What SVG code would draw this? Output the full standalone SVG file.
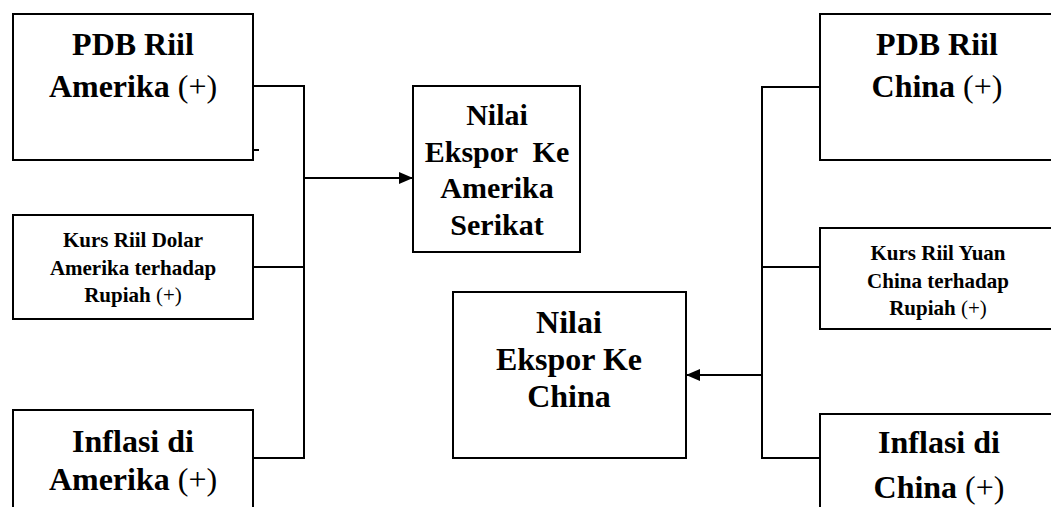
<svg xmlns="http://www.w3.org/2000/svg" width="1051" height="507" viewBox="0 0 1051 507">
<style>
.box{fill:#fff;stroke:#000;stroke-width:2}
.ln{fill:none;stroke:#000;stroke-width:2}
text{font-family:"Liberation Serif","Times New Roman",serif;font-weight:bold;fill:#000;text-anchor:middle}
.big{font-size:32px}
.mid{font-size:30px}
.sm{font-size:21px}
.n{font-weight:normal}
</style>
<defs>
<marker id="ah" markerWidth="14" markerHeight="12" refX="14" refY="6" orient="auto" markerUnits="userSpaceOnUse">
<path d="M0,0 L14,6 L0,12 Z" fill="#000"/>
</marker>
</defs>
<g id="connectors">
<polyline class="ln" points="253,86 304,86 304,458 253,458"/>
<line class="ln" x1="253" y1="267" x2="304" y2="267"/>
<line class="ln" x1="304" y1="178" x2="413" y2="178" marker-end="url(#ah)"/>
<line class="ln" x1="250" y1="150" x2="259" y2="150" stroke-width="1.5"/>
<polyline class="ln" points="820,87 762,87 762,458 820,458"/>
<line class="ln" x1="762" y1="267" x2="820" y2="267"/>
<line class="ln" x1="762" y1="375" x2="686" y2="375" marker-end="url(#ah)"/>
</g>
<g id="pdb-amerika">
<rect class="box" x="13" y="14" width="240" height="146"/>
<text class="big" x="133" y="55">PDB Riil</text>
<text class="big" x="133" y="97">Amerika <tspan class="n">(+)</tspan></text>
</g>
<g id="kurs-dolar">
<rect class="box" x="13" y="215" width="240" height="104"/>
<text class="sm" x="133" y="247">Kurs Riil Dolar</text>
<text class="sm" x="133" y="275">Amerika terhadap</text>
<text class="sm" x="133" y="302">Rupiah <tspan class="n">(+)</tspan></text>
</g>
<g id="inflasi-amerika">
<rect class="box" x="13" y="410" width="240" height="110"/>
<text class="big" x="133" y="452">Inflasi di</text>
<text class="big" x="133" y="490">Amerika <tspan class="n">(+)</tspan></text>
</g>
<g id="ekspor-amerika">
<rect class="box" x="413" y="86" width="167" height="166"/>
<text class="mid" x="497" y="125">Nilai</text>
<text class="mid" x="497" y="162" xml:space="preserve">Ekspor  Ke</text>
<text class="mid" x="497" y="198">Amerika</text>
<text class="mid" x="497" y="235">Serikat</text>
</g>
<g id="ekspor-china">
<rect class="box" x="453" y="292" width="233" height="166"/>
<text class="big" x="569" y="333">Nilai</text>
<text class="big" x="569" y="370">Ekspor Ke</text>
<text class="big" x="569" y="407">China</text>
</g>
<g id="pdb-china">
<rect class="box" x="820" y="14" width="250" height="146"/>
<text class="big" x="937" y="55">PDB Riil</text>
<text class="big" x="937" y="97">China <tspan class="n">(+)</tspan></text>
</g>
<g id="kurs-yuan">
<rect class="box" x="820" y="228" width="250" height="101"/>
<text class="sm" x="938" y="260">Kurs Riil Yuan</text>
<text class="sm" x="938" y="288">China terhadap</text>
<text class="sm" x="938" y="315">Rupiah <tspan class="n">(+)</tspan></text>
</g>
<g id="inflasi-china">
<rect class="box" x="820" y="414" width="250" height="110"/>
<text class="big" x="939" y="453">Inflasi di</text>
<text class="big" x="939" y="498">China <tspan class="n">(+)</tspan></text>
</g>
</svg>
